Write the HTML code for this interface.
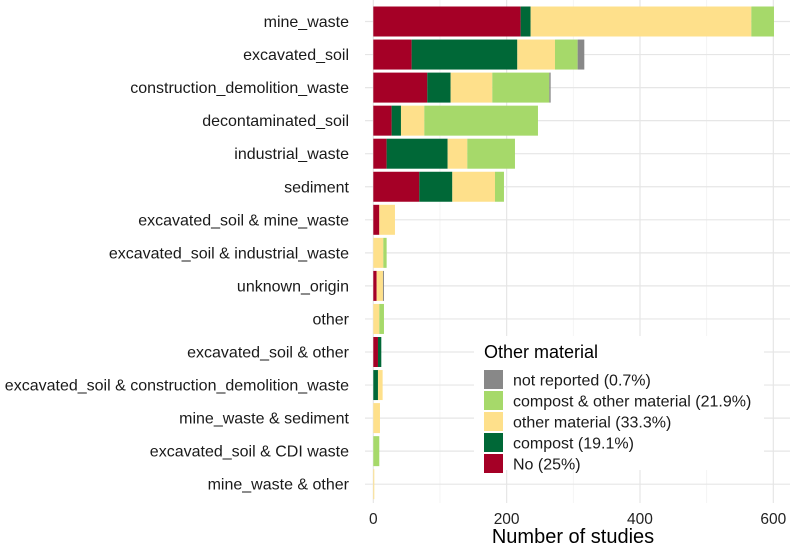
<!DOCTYPE html>
<html><head><meta charset="utf-8"><style>
body{margin:0;background:#fff;}
svg text{font-family:"Liberation Sans",sans-serif;}
</style></head><body>
<svg id="chart" width="797" height="548" xmlns="http://www.w3.org/2000/svg">
<g id="grid"></g>
<g id="bars"></g>
<g id="ylab"></g>
<g id="xlab"></g>
<text x="573" y="543" font-size="20" text-anchor="middle" fill="#000">Number of studies</text>
<g id="legend">
<rect x="474" y="336" width="290" height="134" fill="#fff"/>
<text x="484" y="358" font-size="18" fill="#000">Other material</text>
</g>
</svg>
<script>
const categories=["mine_waste","excavated_soil","construction_demolition_waste","decontaminated_soil","industrial_waste","sediment","excavated_soil & mine_waste","excavated_soil & industrial_waste","unknown_origin","other","excavated_soil & other","excavated_soil & construction_demolition_waste","mine_waste & sediment","excavated_soil & CDI waste","mine_waste & other"];
const noVals=[221,57.5,81,27.5,20,69,9,0,5,0,7,0,0,0,0];
const compostVals=[15,158.5,35,14,91.5,49.5,0,0,0,0,5,7,0,0,0];
const otherVals=[331,56.5,62.5,35,29.5,64,23.5,15,9.5,9,0,7,10,0,1.5];
const compOtherVals=[34,34,85.5,170.5,71.5,13.5,0,5,0,7,0,0,0,9,0];
const notRepVals=[0,10,2,0,0,0,0,0,1.5,0,0,0,0,0,0];
const xTicks=[0,200,400,600];
const xMinor=[100,300,500];
const seriesNames=["No","compost","other material","compost & other material","not reported"];
const legendLabels=["not reported (0.7%)","compost & other material (21.9%)","other material (33.3%)","compost (19.1%)","No (25%)"];
const legendColors=["#888888","#a6d96a","#fee08b","#006837","#a50026"];
const colors=["#a50026","#006837","#fee08b","#a6d96a","#888888"];
const series=[noVals,compostVals,otherVals,compOtherVals,notRepVals];
const NS="http://www.w3.org/2000/svg";
const x0=373.3,k=0.6667,plotLeft=365,plotRight=790,plotTop=0,plotBottom=503;
const xs=v=>x0+v*k;
const ys=i=>21.5+i*33.05;
function mk(t,a){const e=document.createElementNS(NS,t);for(const n in a)e.setAttribute(n,a[n]);return e;}
const grid=document.getElementById('grid');
xMinor.forEach(v=>{const l=mk('line',{x1:xs(v),x2:xs(v),y1:plotTop,y2:plotBottom,stroke:'#f2f2f2','stroke-width':0.8});

grid.appendChild(l);});
xTicks.forEach(v=>{const l=mk('line',{x1:xs(v),x2:xs(v),y1:plotTop,y2:plotBottom,stroke:'#e6e6e6','stroke-width':1.2});

grid.appendChild(l);});
categories.forEach((c,i)=>{const l=mk('line',{x1:plotLeft,x2:plotRight,y1:ys(i),y2:ys(i),stroke:'#e6e6e6','stroke-width':1.2});

grid.appendChild(l);});
const bars=document.getElementById('bars');
categories.forEach((c,i)=>{let acc=0;series.forEach((s,j)=>{const v=s[i];if(v>0){const r=mk('rect',{x:xs(acc),y:ys(i)-15,width:v*k,height:30,fill:colors[j]});

bars.appendChild(r);}acc+=v;});});
const yl=document.getElementById('ylab');
categories.forEach((c,i)=>{const t=mk('text',{x:349,y:ys(i)+5.5,'font-size':16,'text-anchor':'end',fill:'#1a1a1a'});t.textContent=c;

yl.appendChild(t);});
const xl=document.getElementById('xlab');
xTicks.forEach(v=>{const t=mk('text',{x:xs(v),y:524,'font-size':15.5,'text-anchor':'middle',fill:'#222'});t.textContent=v;

xl.appendChild(t);});
const lg=document.getElementById('legend');
legendLabels.forEach((s,i)=>{const y=370+i*21;const r=mk('rect',{x:484,y:y,width:19,height:19,fill:legendColors[i]});

lg.appendChild(r);
const t=mk('text',{x:513,y:y+15.5,'font-size':16,fill:'#1a1a1a'});t.textContent=s;

lg.appendChild(t);});
</script>
</body></html>
